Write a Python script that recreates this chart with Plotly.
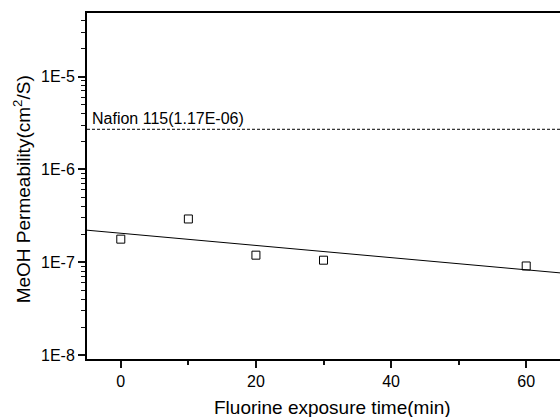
import plotly.graph_objects as go

# data
exposure_time = [0, 10, 20, 30, 60]
permeability = [1.77e-7, 2.92e-7, 1.19e-7, 1.05e-7, 9.1e-8]
fit_x = [-5, 65]
fit_y = [2.21e-7, 7.67e-8]
nafion_x = [-5, 65]
nafion_y = [2.7e-6, 2.7e-6]
nafion_label = "Nafion 115(1.17E-06)"
y_tickvals = [1e-8, 1e-7, 1e-6, 1e-5]
y_ticktext = ["1E-8", "1E-7", "1E-6", "1E-5"]
x_tickvals = [0, 20, 40, 60]
x_ticktext = ["0", "20", "40", "60"]
y_minor_ticks = [k * 10.0 ** e for e in range(-9, -4) for k in range(2, 10)]

FONT = "Liberation Sans, Arial, sans-serif"

fig = go.Figure()
fig.add_trace(go.Scatter(x=nafion_x, y=nafion_y, mode="lines",
                         line=dict(color="black", width=1, dash="3px,2px"),
                         showlegend=False, hoverinfo="skip"))
fig.add_trace(go.Scatter(x=fit_x, y=fit_y, mode="lines",
                         line=dict(color="black", width=1),
                         showlegend=False))
fig.add_trace(go.Scatter(x=exposure_time, y=permeability, mode="markers",
                         marker=dict(symbol="square-open", size=8,
                                     color="black", line=dict(width=1, color="black")),
                         showlegend=False))

fig.update_layout(
    width=560, height=417, margin=dict(l=87, r=0, t=13, b=58),
    plot_bgcolor="white",
    font=dict(family=FONT, size=16, color="black"),
    xaxis=dict(range=[-5, 65], tickvals=x_tickvals, ticktext=x_ticktext,
               ticks="outside", ticklen=7, tickwidth=2, tickcolor="#111111",
               showline=True, linecolor="black", linewidth=2, mirror=True,
               showgrid=False, zeroline=False,
               minor=dict(ticks="outside", ticklen=4, tickwidth=2,
                          tickcolor="#111111", dtick=10)),
    yaxis=dict(type="log", range=[-8.043, -4.316], tickvals=y_tickvals,
               ticktext=y_ticktext, ticks="outside", ticklen=7, tickwidth=2,
               tickcolor="#111111", showline=True, linecolor="black", linewidth=2,
               showgrid=False, zeroline=False,
               minor=dict(ticks="outside", ticklen=4, tickwidth=1,
                          tickcolor="#111111", tickvals=y_minor_ticks)),
    annotations=[
        dict(text="Fluorine exposure time(min)", xref="paper", yref="paper",
             x=0.519, y=-0.139, xanchor="center", yanchor="middle",
             showarrow=False, font=dict(size=19)),
        dict(text="MeOH Permeability(cm<sup>2</sup>/S)", xref="paper", yref="paper",
             x=-0.137, y=0.491, xanchor="center", yanchor="middle", textangle=-90,
             showarrow=False, font=dict(size=19)),
        dict(text=nafion_label, xref="paper", yref="paper",
             x=0.0, y=0.696, xanchor="left", yanchor="middle", xshift=3,
             showarrow=False, font=dict(size=16)),
    ],
)

fig.write_html("out.html")
